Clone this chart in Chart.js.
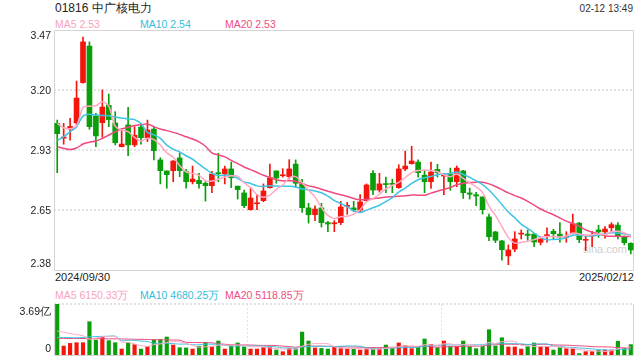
<!DOCTYPE html>
<html><head><meta charset="utf-8">
<script src="https://cdn.jsdelivr.net/npm/chart.js@4/dist/chart.umd.min.js"></script>
<style>
html,body{margin:0;padding:0;background:#fff;width:640px;height:360px;overflow:hidden;font-family:"Liberation Sans",Arial,sans-serif;}
.t{position:absolute;white-space:nowrap;}
canvas{position:absolute;left:0;}
</style></head><body>
<div class="t" style="left:55px;top:1px;font-size:12px;line-height:14px;color:#222">01816 中广核电力</div>
<div class="t" style="right:7px;top:3px;font-size:10px;line-height:12px;color:#333">02-12 13:49</div>
<div class="t" style="left:55px;top:18px;font-size:10.5px;line-height:12px;color:#f7a3bd">MA5 2.53</div>
<div class="t" style="left:140px;top:18px;font-size:10.5px;line-height:12px;color:#35bedc">MA10 2.54</div>
<div class="t" style="left:225px;top:18px;font-size:10.5px;line-height:12px;color:#ee4d80">MA20 2.53</div>
<div class="t" style="left:583px;top:242px;font-size:11px;line-height:14px;color:#cfcfcf">sina.com</div>
<div class="t" id="d0" style="left:55px;top:271px;font-size:11px;line-height:13px;color:#222"></div>
<div class="t" id="d1" style="right:6px;top:271px;font-size:11px;line-height:13px;color:#222"></div>
<div class="t" style="left:55px;top:289px;font-size:10.5px;line-height:12px;color:#f7a3bd">MA5 6150.33万</div>
<div class="t" style="left:140px;top:289px;font-size:10.5px;line-height:12px;color:#35bedc">MA10 4680.25万</div>
<div class="t" style="left:225px;top:289px;font-size:10.5px;line-height:12px;color:#ee4d80">MA20 5118.85万</div>
<canvas id="main" width="640" height="280" style="top:0"></canvas>
<canvas id="vol" width="640" height="70" style="top:290px"></canvas>
<div id="ylab"></div>
<script>
const dates = ['2024/09/30','2024/10/02','2024/10/03','2024/10/04','2024/10/07','2024/10/08','2024/10/09','2024/10/10','2024/10/14','2024/10/15','2024/10/16','2024/10/17','2024/10/18','2024/10/21','2024/10/22','2024/10/23','2024/10/24','2024/10/25','2024/10/28','2024/10/29','2024/10/30','2024/10/31',
'2024/11/01','2024/11/04','2024/11/05','2024/11/06','2024/11/07','2024/11/08','2024/11/11','2024/11/12','2024/11/13','2024/11/14','2024/11/15','2024/11/18','2024/11/19','2024/11/20','2024/11/21','2024/11/22','2024/11/25','2024/11/26','2024/11/27','2024/11/28','2024/11/29',
'2024/12/02','2024/12/03','2024/12/04','2024/12/05','2024/12/06','2024/12/09','2024/12/10','2024/12/11','2024/12/12','2024/12/13','2024/12/16','2024/12/17','2024/12/18','2024/12/19','2024/12/20','2024/12/23','2024/12/24','2024/12/27','2024/12/30','2024/12/31',
'2025/01/02','2025/01/03','2025/01/06','2025/01/07','2025/01/08','2025/01/09','2025/01/10','2025/01/13','2025/01/14','2025/01/15','2025/01/16','2025/01/17','2025/01/20','2025/01/21','2025/01/22','2025/01/23','2025/01/24','2025/01/27','2025/01/28',
'2025/02/03','2025/02/04','2025/02/05','2025/02/06','2025/02/07','2025/02/10','2025/02/11','2025/02/12'];

const openP = [3.046,2.979,3.020,3.048,3.231,3.397,3.079,3.049,3.128,3.048,
2.940,3.039,2.948,3.029,2.981,3.020,2.880,2.830,2.831,2.889,
2.827,2.781,2.787,2.774,2.763,2.822,2.816,2.839,2.761,2.730,
2.654,2.681,2.695,2.754,2.830,2.808,2.804,2.861,2.771,2.662,
2.631,2.662,2.595,2.590,2.595,2.669,2.662,2.652,2.695,2.819,
2.743,2.772,2.772,2.754,2.839,2.863,2.870,2.811,2.781,2.837,
2.807,2.814,2.781,2.830,2.730,2.722,2.712,2.621,2.553,2.512,
2.444,2.475,2.543,2.543,2.543,2.506,2.536,2.556,2.543,2.528,
2.548,2.593,2.515,2.534,2.562,2.553,2.572,2.584,2.531,2.501];
const highP = [3.061,3.046,3.069,3.238,3.438,3.416,3.092,3.198,3.179,3.099,
3.022,3.119,3.031,3.045,3.061,3.028,2.890,2.830,2.877,2.910,
2.837,2.852,2.819,2.781,2.828,2.910,2.852,2.870,2.761,2.743,
2.752,2.724,2.771,2.861,2.830,2.840,2.881,2.880,2.792,2.683,
2.671,2.683,2.601,2.604,2.692,2.687,2.692,2.722,2.771,2.831,
2.819,2.802,2.792,2.858,2.920,2.942,2.880,2.831,2.870,2.860,
2.814,2.843,2.852,2.833,2.752,2.733,2.712,2.634,2.556,2.515,
2.494,2.554,2.562,2.562,2.547,2.531,2.572,2.565,2.595,2.554,
2.634,2.596,2.539,2.556,2.583,2.577,2.595,2.595,2.534,2.504];
const lowP = [2.822,2.951,2.970,3.039,3.228,3.019,2.940,2.983,3.031,2.948,
2.939,2.899,2.940,2.952,2.963,2.880,2.771,2.751,2.781,2.804,
2.752,2.771,2.752,2.693,2.731,2.781,2.771,2.754,2.702,2.663,
2.652,2.654,2.690,2.752,2.774,2.802,2.793,2.755,2.642,2.593,
2.604,2.575,2.554,2.554,2.586,2.633,2.645,2.645,2.692,2.722,
2.734,2.731,2.731,2.751,2.831,2.861,2.802,2.731,2.751,2.802,
2.722,2.742,2.758,2.705,2.702,2.672,2.634,2.513,2.504,2.425,
2.404,2.463,2.521,2.515,2.486,2.494,2.506,2.521,2.506,2.506,
2.544,2.504,2.468,2.486,2.528,2.524,2.554,2.521,2.494,2.453];
const closeP = [2.999,2.984,3.032,3.161,3.416,3.031,2.989,3.120,3.063,2.958,
2.952,2.948,2.992,2.981,3.016,2.922,2.831,2.813,2.875,2.831,
2.781,2.793,2.772,2.763,2.816,2.817,2.839,2.799,2.745,2.672,
2.707,2.684,2.739,2.798,2.798,2.811,2.839,2.774,2.663,2.631,
2.657,2.595,2.589,2.593,2.666,2.672,2.652,2.689,2.766,2.743,
2.771,2.768,2.769,2.839,2.852,2.875,2.822,2.781,2.825,2.822,
2.810,2.781,2.843,2.731,2.724,2.716,2.654,2.531,2.515,2.472,
2.471,2.521,2.547,2.537,2.507,2.519,2.539,2.545,2.530,2.531,
2.590,2.518,2.518,2.537,2.553,2.566,2.586,2.534,2.504,2.471];

const ma5 = [3.046,3.026,3.022,3.036,3.118,3.124,3.126,3.144,3.124,3.032,
3.016,3.008,2.982,2.966,2.978,2.972,2.948,2.912,2.892,2.854,
2.826,2.818,2.810,2.786,2.784,2.792,2.802,2.808,2.806,2.776,
2.754,2.722,2.710,2.720,2.746,2.766,2.798,2.804,2.776,2.742,
2.712,2.664,2.628,2.614,2.622,2.624,2.634,2.654,2.690,2.704,
2.724,2.748,2.764,2.778,2.800,2.822,2.832,2.834,2.832,2.826,
2.812,2.804,2.816,2.796,2.776,2.758,2.732,2.670,2.628,2.578,
2.528,2.502,2.506,2.510,2.518,2.528,2.532,2.532,2.530,2.534,
2.548,2.544,2.538,2.540,2.544,2.540,2.554,2.556,2.548,2.532];
const ma10 = [2.967,2.986,3.008,3.031,3.079,3.087,3.084,3.082,3.081,3.075,
3.070,3.067,3.063,3.045,3.005,2.994,2.978,2.947,2.929,2.916,
2.899,2.883,2.861,2.839,2.819,2.809,2.810,2.809,2.796,2.780,
2.773,2.762,2.759,2.763,2.761,2.760,2.760,2.757,2.748,2.744,
2.739,2.731,2.716,2.695,2.682,2.668,2.649,2.641,2.652,2.663,
2.674,2.691,2.709,2.734,2.752,2.773,2.790,2.799,2.805,2.813,
2.817,2.818,2.825,2.814,2.801,2.785,2.768,2.743,2.712,2.677,
2.643,2.617,2.588,2.569,2.548,2.528,2.517,2.519,2.520,2.526,
2.538,2.538,2.535,2.535,2.539,2.544,2.549,2.547,2.544,2.538];
const ma20 = [2.940,2.933,2.927,2.934,2.952,2.960,2.966,2.978,2.993,3.008,
3.020,3.028,3.036,3.040,3.043,3.031,3.020,3.013,3.005,2.996,
2.985,2.975,2.962,2.942,2.912,2.902,2.894,2.878,2.863,2.848,
2.836,2.823,2.810,2.801,2.790,2.785,2.785,2.783,2.772,2.762,
2.756,2.747,2.738,2.729,2.722,2.714,2.705,2.699,2.700,2.704,
2.707,2.711,2.713,2.715,2.717,2.721,2.720,2.720,2.729,2.738,
2.746,2.755,2.767,2.774,2.777,2.779,2.779,2.771,2.759,2.745,
2.730,2.718,2.707,2.692,2.675,2.657,2.643,2.631,2.616,2.602,
2.591,2.578,2.562,2.552,2.544,2.536,2.533,2.533,2.532,2.532];

// volume in 万
const volume = [36900,6500,8400,8900,8900,24100,10800,12800,10400,8900,
4300,8900,7500,4300,6000,10800,11300,13000,7200,5300,
5100,4300,6300,8900,6000,10100,4300,6700,8700,5800,
4300,4300,5500,5500,3600,2400,4800,4600,16600,10100,
5100,4800,4300,5500,5100,4300,4300,3600,4600,4300,
4600,7200,5500,8700,6700,4600,6000,11600,7700,5300,
10100,6000,6000,10100,6000,4600,6700,18300,6500,12500,
5800,5800,4300,6000,8700,6000,6000,3600,5300,4600,
4600,1000,2400,2400,3400,3600,3600,10000,5300,7500];
const volMa5 = [17300,16500,15500,14700,13920,11360,12220,13100,13400,13400,
9440,9060,8000,6780,6200,7500,7980,9080,9660,9520,
8380,6980,5640,5980,6120,7120,7120,7200,7160,7120,
5960,5960,5720,5080,4640,4260,4360,4180,6400,7700,
8240,8240,8180,5960,4960,4800,4700,4560,4380,4220,
4280,4860,5240,6060,6540,6540,6300,7520,7320,7040,
8140,8140,7020,7500,7640,6540,6680,9140,8420,9720,
9960,9780,6980,6880,6120,6160,6200,6060,5920,5100,
4820,3820,3580,3000,2760,2560,3080,4600,5180,6000];
const volMa10 = [12800,12700,12600,12500,12700,13100,13300,13500,13600,13660,
10400,10640,10550,10090,9800,8470,8520,8540,8220,7860,
7940,7480,7360,7820,7820,7750,7050,6420,6570,6620,
6540,6540,6460,6120,5880,5110,5160,4950,5740,6170,
6250,6300,6180,6180,6330,6520,6470,6370,5170,4590,
4540,4780,4900,5220,5380,5410,5580,6380,6690,6790,
7340,7220,7270,7410,7340,7340,7410,8080,7960,8680,
8250,8230,8060,7650,7920,8060,7990,6520,6400,5610,
5490,5010,4820,4460,3930,3690,3450,4090,4090,4380];
const volMa20 = [12000,12000,11900,11900,11900,11800,11800,11800,11700,11700,
11600,11500,11400,11300,11200,11100,11000,10900,10800,10760,
9170,9060,8955,8955,8810,8110,7785,7480,7395,7240,
7240,7010,6910,6970,6850,6430,6105,5685,6155,6395,
6395,6420,6320,6150,6105,5815,5815,5660,5455,5380,
5395,5540,5540,5700,5855,5965,6025,6375,5930,5690,
5940,6000,6085,6315,6360,6375,6495,7230,7325,7735,
7795,7725,7665,7530,7630,7700,7700,7300,7180,7145,
6870,6620,6440,6055,5925,5875,5720,5305,5245,4995];

const priceTickLabels = ['3.47','3.20','2.93','2.65','2.38'];
const priceTickValues = [3.47,3.1975,2.925,2.6525,2.38];
const volTickLabels = ['3.69亿','0'];
const volTickValues = [36900,0];

const RED = '#f4150c', GREEN = '#0a9f0a';
const C_MA5 = '#ffa9c3', C_MA10 = '#3ec4e2', C_MA20 = '#ee4a7e';
const candleColors = closeP.map((c,i)=> c >= openP[i] ? RED : GREEN);

const framePlugin = {
  id:'frame',
  beforeDatasetsDraw(chart, args, opts){
    const ctx = chart.ctx, a = chart.chartArea;
    ctx.save();
    ctx.strokeStyle = '#e2e2e2';
    ctx.lineWidth = 2;
    ctx.setLineDash([2,2]);
    (opts.hTicks||[]).forEach(v=>{
      const y = Math.round(chart.scales.y.getPixelForValue(v));
      ctx.beginPath(); ctx.moveTo(a.left, y); ctx.lineTo(a.right, y); ctx.stroke();
    });
    ctx.lineWidth = 1;
    (opts.vFrac||[]).forEach(f=>{
      const x = Math.round(a.left + (a.right-a.left)*f) + 0.5;
      ctx.beginPath(); ctx.moveTo(x, a.top); ctx.lineTo(x, a.bottom); ctx.stroke();
    });
    ctx.setLineDash([]);
    ctx.strokeStyle = '#d4d4d4';
    ctx.lineWidth = 1;
    ctx.beginPath();
    if (opts.full) {
      ctx.rect(a.left+0.5, a.top+0.5, a.right-a.left-1, a.bottom-a.top);
    } else {
      ctx.moveTo(a.left+0.5, a.top); ctx.lineTo(a.left+0.5, a.bottom+0.5);
      ctx.lineTo(a.right-0.5, a.bottom+0.5); ctx.lineTo(a.right-0.5, a.top);
    }
    ctx.stroke();
    ctx.restore();
  }
};

const lineDs = (data, color, w) => ({type:'line', data, borderColor:color, borderWidth:w, pointRadius:0, tension:0.3, fill:false, order:0});

const mainChart = new Chart(document.getElementById('main'), {
  type:'bar',
  data:{labels:dates, datasets:[
    lineDs(ma5, C_MA5, 1.5),
    lineDs(ma10, C_MA10, 1.5),
    lineDs(ma20, C_MA20, 1.5),
    {type:'bar', data:openP.map((o,i)=>[o, closeP[i]]), backgroundColor:candleColors, barThickness:5, grouped:false, minBarLength:1, order:1},
    {type:'bar', data:lowP.map((l,i)=>[l, highP[i]]), backgroundColor:candleColors, barThickness:1, grouped:false, order:2}
  ]},
  options:{responsive:false, animation:false, events:[],
    layout:{padding:{left:54, top:30, right:6, bottom:10}},
    plugins:{legend:{display:false}, tooltip:{enabled:false},
      frame:{hTicks:priceTickValues.slice(1,-1), full:true}},
    scales:{x:{display:false}, y:{display:false, min:2.38, max:3.47}}
  },
  plugins:[framePlugin]
});

const volChart = new Chart(document.getElementById('vol'), {
  type:'bar',
  data:{labels:dates, datasets:[
    lineDs(volMa5, C_MA5, 1),
    lineDs(volMa10, C_MA10, 1),
    lineDs(volMa20, C_MA20, 1),
    {type:'bar', data:volume, backgroundColor:candleColors, barThickness:3.5, order:1}
  ]},
  options:{responsive:false, animation:false, events:[],
    layout:{padding:{left:54, top:14, right:6, bottom:5}},
    plugins:{legend:{display:false}, tooltip:{enabled:false},
      frame:{hTicks:[volTickValues[0]], vFrac:[1/3, 2/3], full:false}},
    scales:{x:{display:false}, y:{display:false, min:0, max:36900}}
  },
  plugins:[framePlugin]
});

// axis labels as HTML text, placed through the chart scales
const host = document.getElementById('ylab');
function addLabel(text, yCenter, rightEdge){
  const d = document.createElement('div');
  d.className = 't';
  d.textContent = text;
  d.style.cssText = `right:${640-rightEdge}px;top:${yCenter-6.5}px;font-size:10.5px;line-height:13px;color:#222`;
  host.appendChild(d);
}
priceTickValues.forEach((v,i)=>{
  let y = mainChart.scales.y.getPixelForValue(v);
  if (i===0) y += 5.5;
  if (i===priceTickValues.length-1) y -= 6.5;
  addLabel(priceTickLabels[i], y, 51);
});
volTickValues.forEach((v,i)=>{
  let y = volChart.scales.y.getPixelForValue(v) + 290;
  if (i===0) y += 7;
  else y -= 7;
  addLabel(volTickLabels[i], y, 51);
});
document.getElementById('d0').textContent = dates[0];
document.getElementById('d1').textContent = dates[dates.length-1];
</script>
</body></html>
